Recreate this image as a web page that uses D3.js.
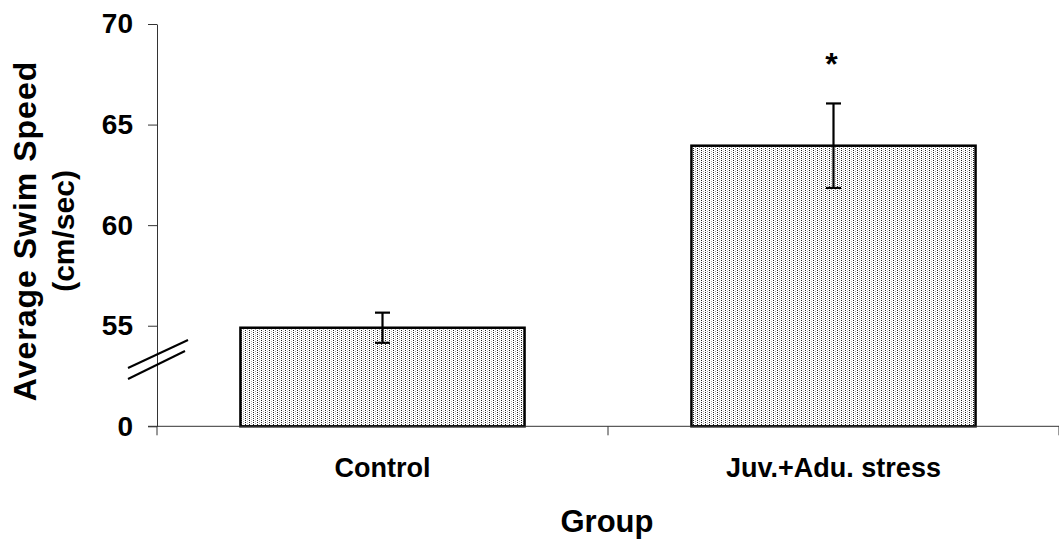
<!DOCTYPE html>
<html>
<head>
<meta charset="utf-8">
<script src="https://cdn.jsdelivr.net/npm/d3@7"></script>
<style>
  body { margin: 0; background: #fff; }
  text { font-family: Arial, "Liberation Sans", sans-serif; font-weight: bold; fill: #000; }
</style>
</head>
<body>
<svg id="chart"></svg>
<script>
const groups = ['Control', 'Juv.+Adu. stress'];
const means = [54.9, 63.95];
const errors = [0.75, 2.1];
const significant = [false, true];
// the axis is broken: the "0" tick is drawn where 50 would be
const yTickValues = [50, 55, 60, 65, 70];
const yTickLabels = ['0', '55', '60', '65', '70'];

const width = 1059, height = 547;
const margin = { top: 24, left: 157, right: 0, bottom: 121 };

const svg = d3.select('#chart')
  .attr('width', width)
  .attr('height', height)
  .style('background-color', '#fff');

// dotted fill
const defs = svg.append('defs');
const pat = defs.append('pattern')
  .attr('id', 'dots')
  .attr('patternUnits', 'userSpaceOnUse')
  .attr('width', 4).attr('height', 4);
pat.append('rect').attr('width', 4).attr('height', 4).attr('fill', '#fff');
[[1, 0, '#222'], [1, 2, '#222'], [3, 1, '#aaa'], [3, 3, '#aaa']].forEach(([px, py, c]) => {
  pat.append('rect').attr('x', px).attr('y', py).attr('width', 1).attr('height', 1).attr('fill', c);
});

// x scale
const x = d3.scaleBand()
  .domain(groups)
  .range([margin.left, width - margin.right])
  .paddingInner(0.37)
  .paddingOuter(0.185);

// y scale
const y = d3.scaleLinear()
  .domain([50, 70])
  .range([426.3, margin.top]);
const base = y(yTickValues[0]);

// bars
svg.append('g')
  .selectAll('rect')
  .data(groups)
  .join('rect')
  .attr('x', d => x(d))
  .attr('y', (d, i) => y(means[i]))
  .attr('width', x.bandwidth())
  .attr('height', (d, i) => base - y(means[i]))
  .attr('fill', 'url(#dots)')
  .attr('stroke', '#000')
  .attr('stroke-width', 2.5);

// error bars
const eb = svg.append('g').attr('stroke', '#000').attr('stroke-width', 2.2);
groups.forEach((g, i) => {
  const cx = x(g) + x.bandwidth() / 2;
  const hi = y(means[i] + errors[i]), lo = y(means[i] - errors[i]);
  eb.append('line').attr('x1', cx).attr('x2', cx).attr('y1', hi).attr('y2', lo);
  eb.append('line').attr('x1', cx - 7.5).attr('x2', cx + 7.5).attr('y1', hi).attr('y2', hi);
  eb.append('line').attr('x1', cx - 7.5).attr('x2', cx + 7.5).attr('y1', lo).attr('y2', lo);
  if (significant[i]) {
    svg.append('text')
      .attr('x', cx - 2)
      .attr('y', hi - 28)
      .attr('text-anchor', 'middle')
      .style('font-size', '32px')
      .text('*');
  }
});

// y axis
const yAxis = svg.append('g')
  .attr('transform', `translate(${margin.left},0)`)
  .call(d3.axisLeft(y).tickValues(yTickValues).tickSize(9).tickSizeOuter(0).tickPadding(15)
    .tickFormat((d, i) => yTickLabels[i]));
yAxis.selectAll('text').style('font-size', '28px');
yAxis.selectAll('line, path').attr('stroke', '#333');

// x axis line and boundary ticks
const xa = svg.append('g').attr('stroke', '#333').attr('stroke-width', 1);
xa.append('line')
  .attr('x1', margin.left - 9).attr('x2', width)
  .attr('y1', base).attr('y2', base);
[0, 1, 2].forEach(k => {
  const bx = margin.left + k * x.step();
  xa.append('line').attr('x1', bx).attr('x2', bx).attr('y1', base).attr('y2', base + 9);
});

// category labels
const xAxis = svg.append('g')
  .attr('transform', `translate(0,${base})`)
  .call(d3.axisBottom(x).tickSize(0).tickPadding(32));
xAxis.select('.domain').remove();
xAxis.selectAll('text').style('font-size', '27px');

// axis break marks
const brk = svg.append('g').attr('stroke', '#000').attr('stroke-width', 2);
brk.append('line').attr('x1', 128).attr('y1', 368).attr('x2', 188).attr('y2', 340);
brk.append('line').attr('x1', 128).attr('y1', 379).attr('x2', 185).attr('y2', 351);

// axis titles
svg.append('text')
  .attr('x', 607).attr('y', 532)
  .attr('text-anchor', 'middle')
  .style('font-size', '31px')
  .text('Group');

const yt = svg.append('text')
  .attr('transform', 'translate(0,231) rotate(-90)')
  .attr('text-anchor', 'middle');
yt.append('tspan').attr('x', 0).attr('y', 36)
  .style('font-size', '32px').style('letter-spacing', '1px')
  .text('Average Swim Speed');
yt.append('tspan').attr('x', 0).attr('y', 74)
  .style('font-size', '30px')
  .text('(cm/sec)');
</script>
</body>
</html>
